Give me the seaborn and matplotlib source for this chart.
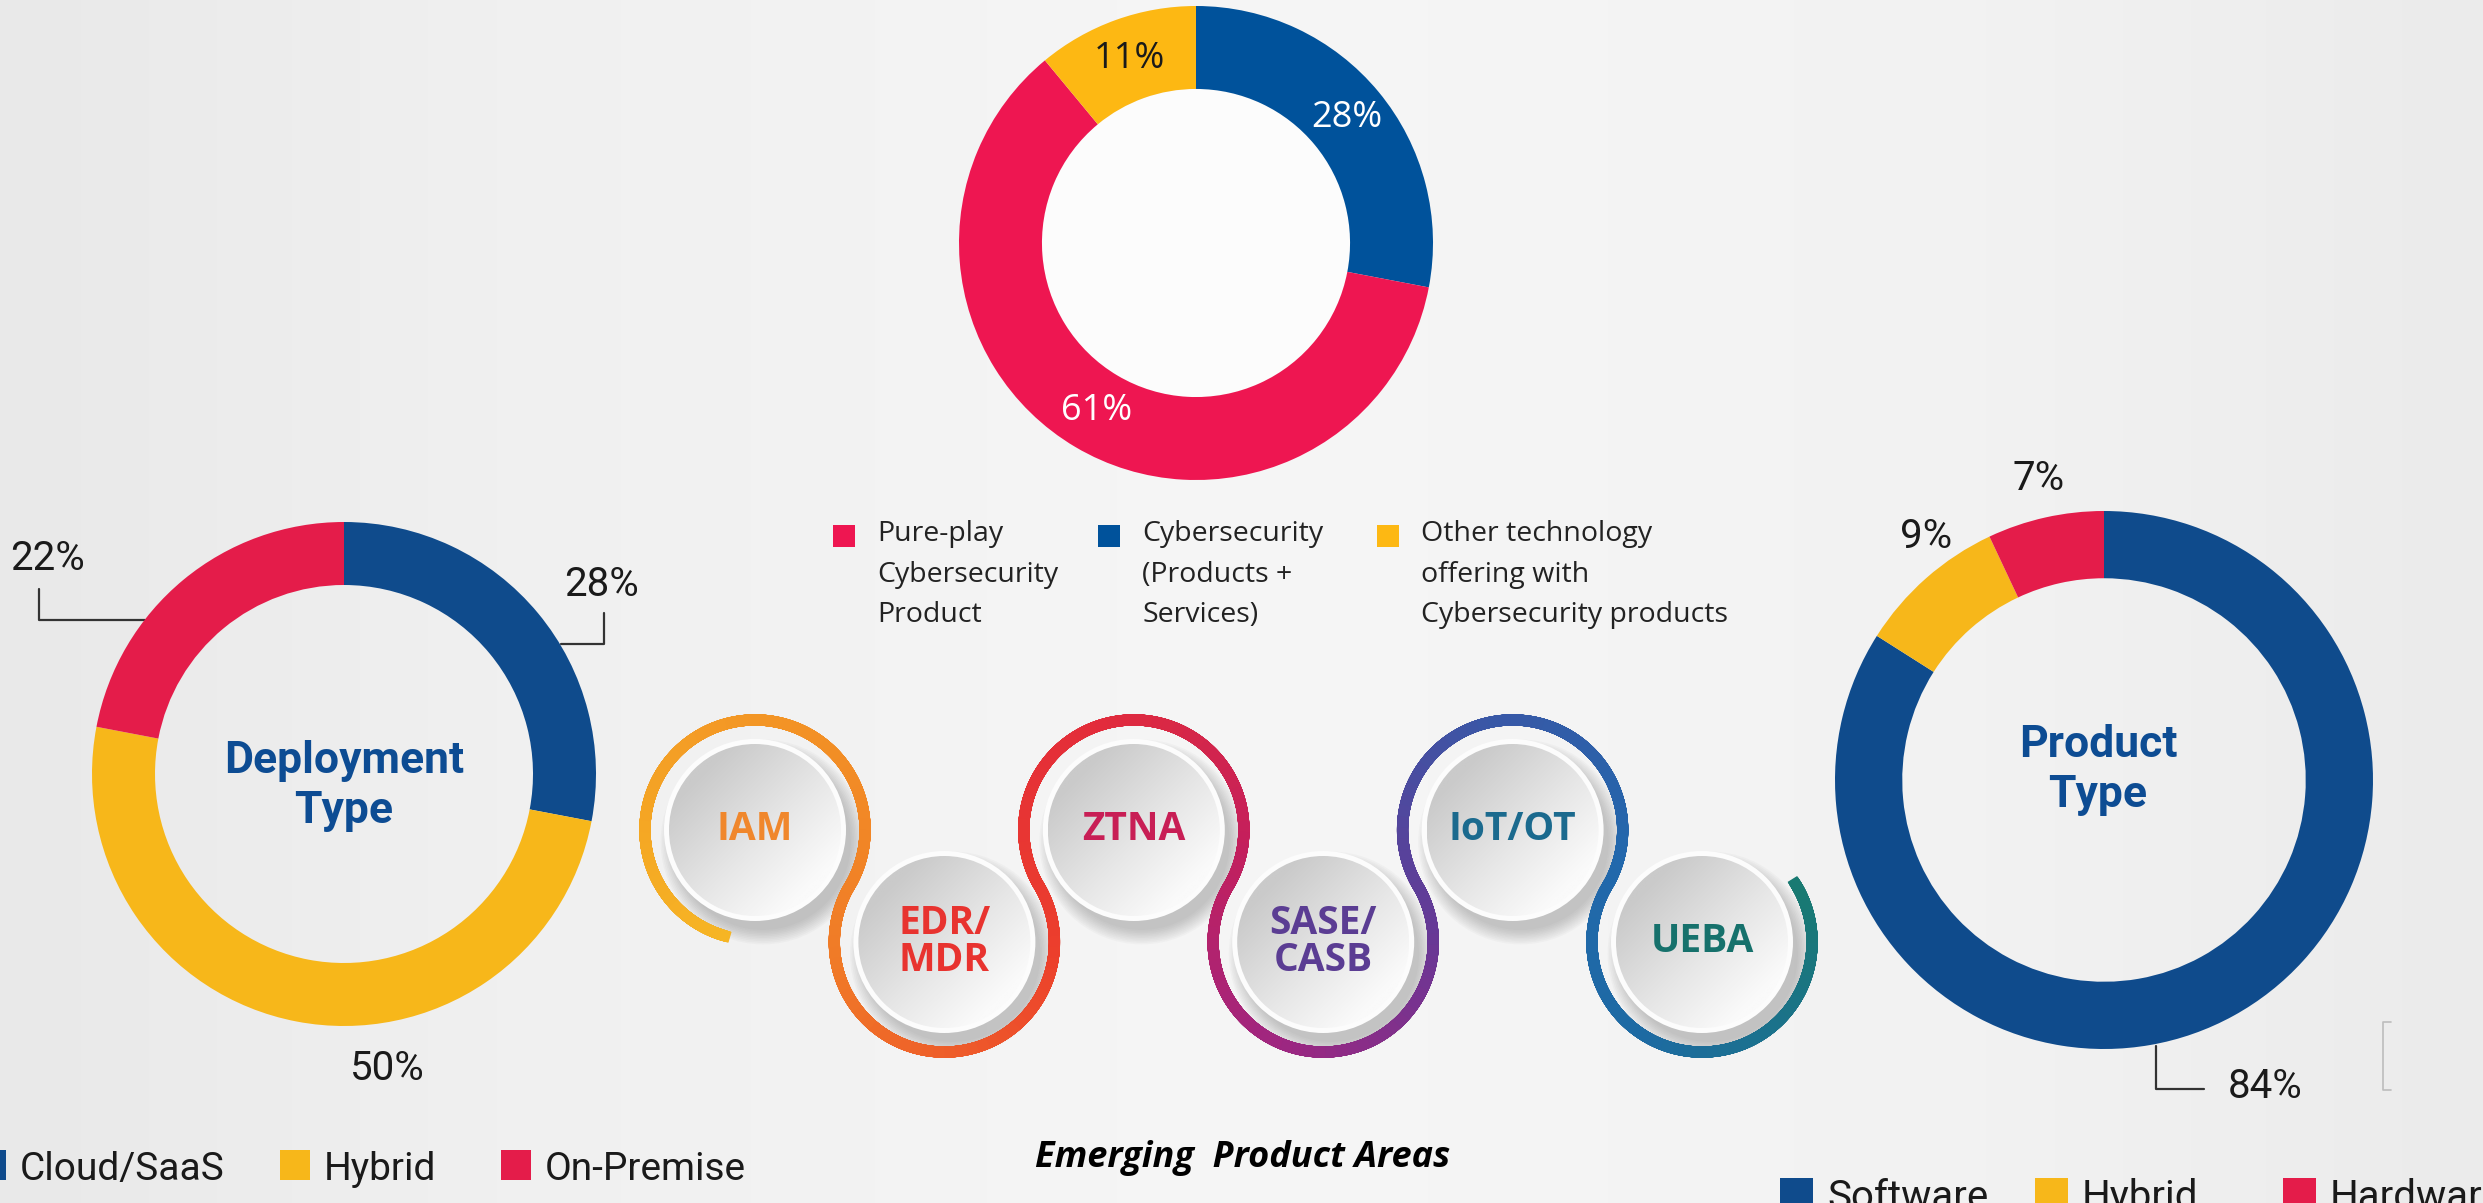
import numpy as np
import matplotlib
matplotlib.use("Agg")
import matplotlib.pyplot as plt
import seaborn as sns
from matplotlib.patches import Circle, Rectangle
from matplotlib.colors import LinearSegmentedColormap
from matplotlib.collections import LineCollection

# ---------------- data ----------------
company_categories = ["Pure-play\nCybersecurity\nProduct",
                      "Cybersecurity\n(Products +\nServices)",
                      "Other technology\noffering with\nCybersecurity products"]
company_values = [61, 28, 11]
company_colors = ["#EE1651", "#00529B", "#FDB813"]
company_pie_order = [1, 0, 2]          # clockwise from 12 o'clock
company_label_colors = ["white", "white", "#1A1A1A"]

deploy_categories = ["Cloud/SaaS", "Hybrid", "On-Premise"]
deploy_values = [28, 50, 22]
deploy_colors = ["#0F4B8C", "#F7B71A", "#E41C4A"]

product_categories = ["Software", "Hybrid", "Hardware"]
product_values = [84, 9, 7]
product_colors = ["#0F4B8C", "#F7B71A", "#E41C4A"]

emerging_areas = ["IAM", "EDR/\nMDR", "ZTNA", "SASE/\nCASB", "IoT/OT", "UEBA"]
emerging_text_colors = ["#F0872C", "#E8332F", "#C81E55", "#5B3D93", "#1B6A8E", "#16716C"]

# ---------------- style ----------------
sns.set_theme(style="white")
plt.rcParams["font.family"] = ["Roboto", "DejaVu Sans"]
DIN = ["Roboto", "DejaVu Sans"]
OPEN = ["Open Sans", "DejaVu Sans"]

W, H = 2483, 1203
fig = plt.figure(figsize=(W / 100, H / 100), dpi=100)

bg = fig.add_axes([0, 0, 1, 1])
bg.set_xlim(0, W)
bg.set_ylim(H, 0)
bg.axis("off")

# background gradient
bg_cmap = LinearSegmentedColormap.from_list(
    "bg", [(0, "#E9E9E9"), (0.2, "#F0F0F0"), (0.5, "#F6F6F6"), (0.8, "#F2F2F2"), (1, "#EBEBEB")])
bg.imshow(np.linspace(0, 1, 400)[None, :], extent=(0, W, H, 0), cmap=bg_cmap,
          aspect="auto", zorder=0, vmin=0, vmax=1)


def donut_axes(cx, cy, r):
    ax = fig.add_axes([(cx - r) / W, 1 - (cy + r) / H, 2 * r / W, 2 * r / H])
    ax.axis("off")
    return ax


# ---------------- top donut ----------------
axt = donut_axes(1196, 243, 237)
axt.add_patch(Circle((0, 0), 0.65, fc="#FCFCFC", ec="none", zorder=0))
vals = [company_values[i] for i in company_pie_order]
cols = [company_colors[i] for i in company_pie_order]
wedges, _ = axt.pie(vals, colors=cols, startangle=90, counterclock=False, radius=1,
                    wedgeprops=dict(width=0.35, edgecolor="none", linewidth=0))
for w, i in zip(wedges, company_pie_order):
    a = np.deg2rad((w.theta1 + w.theta2) / 2)
    axt.text(0.825 * np.cos(a), 0.825 * np.sin(a), f"{company_values[i]}%",
             ha="center", va="center", fontsize=26, family=OPEN,
             color=company_label_colors[i])
axt.set_xlim(-1, 1)
axt.set_ylim(-1, 1)
axt.set_aspect("equal")

# top legend
leg_x = [833, 1098, 1377]
for x, lab, col in zip(leg_x, company_categories, company_colors):
    bg.add_patch(Rectangle((x, 525), 22, 22, fc=col, ec="none", zorder=3))
    bg.text(x + 44, 520, lab, ha="left", va="top", fontsize=20.5, family=OPEN,
            color="#222222", linespacing=1.6, zorder=3)

# ---------------- deployment donut ----------------
axl = donut_axes(344, 774, 252)
axl.pie(deploy_values, colors=deploy_colors, startangle=90, counterclock=False, radius=1,
        wedgeprops=dict(width=0.25, edgecolor="none", linewidth=0))
axl.set_xlim(-1, 1)
axl.set_ylim(-1, 1)
axl.set_aspect("equal")
bg.text(344, 786, "Deployment\nType", ha="center", va="center", fontsize=32,
        fontweight="bold", family=DIN, color="#0D4C93", linespacing=1.25, zorder=4)

deploy_label_pos = [(602, 585), (387, 1069), (48, 559)]
for (x, y), v in zip(deploy_label_pos, deploy_values):
    bg.text(x, y, f"{v}%", ha="center", va="center", fontsize=29, fontweight="normal",
            family=DIN, color="#1A1A1A", zorder=4)
bg.plot([39, 39, 145], [589, 620, 620], color="#333333", lw=1.6, zorder=4)
bg.plot([604, 604, 561], [613, 644, 644], color="#333333", lw=1.6, zorder=4)

# bottom-left legend
bl_x = [-24, 280, 501]
for x, lab, col in zip(bl_x, deploy_categories, deploy_colors):
    bg.add_patch(Rectangle((x, 1150), 30, 30, fc=col, ec="none", zorder=3))
    bg.text(x + 44, 1180, lab, ha="left", va="baseline", fontsize=28, fontweight="normal",
            family=DIN, color="#1A1A1A", zorder=3)

# ---------------- product donut ----------------
axr = donut_axes(2104, 780, 269)
axr.pie(product_values, colors=product_colors, startangle=90, counterclock=False, radius=1,
        wedgeprops=dict(width=0.25, edgecolor="none", linewidth=0))
axr.set_xlim(-1, 1)
axr.set_ylim(-1, 1)
axr.set_aspect("equal")
bg.text(2098, 770, "Product\nType", ha="center", va="center", fontsize=32,
        fontweight="bold", family=DIN, color="#0D4C93", linespacing=1.25, zorder=4)

product_label_pos = [(2265, 1087), (1926, 536), (2039, 479)]
for (x, y), v in zip(product_label_pos, product_values):
    bg.text(x, y, f"{v}%", ha="center", va="center", fontsize=29, fontweight="normal",
            family=DIN, color="#1A1A1A", zorder=4)
bg.plot([2156, 2156, 2204], [1046, 1089, 1089], color="#333333", lw=1.6, zorder=4)
bg.plot([2391, 2383, 2383, 2391], [1022, 1022, 1090, 1090], color="#BDBDBD", lw=1.2, zorder=2)

# bottom-right legend (cut by the lower edge, as in the original)
br_x = [1780, 2035, 2283]
for x, lab, col in zip(br_x, product_categories, product_colors):
    bg.add_patch(Rectangle((x, 1178), 33, 33, fc=col, ec="none", zorder=3))
    bg.text(x + 47, 1209, lab, ha="left", va="baseline", fontsize=29, fontweight="normal",
            family=DIN, color="#1A1A1A", zorder=3)

# ---------------- emerging product areas ----------------
x0, step, y_up, y_dn, R = 755, 189.4, 830, 942, 110
centers = [(x0 + step * i, y_up if i % 2 == 0 else y_dn) for i in range(len(emerging_areas))]
tang = np.degrees(np.arctan2(y_dn - y_up, step))

pts = []
n = len(centers)
for i, (cx, cy) in enumerate(centers):
    if i % 2 == 0:
        a0 = 254 if i == 0 else 180 + tang
        a1 = -tang
    else:
        a0 = 180 - tang
        a1 = 392 if i == n - 1 else 360 + tang
    m = int(abs(a1 - a0) * 3)
    a = np.deg2rad(np.linspace(a0, a1, m))
    pts.append(np.column_stack([cx + R * np.cos(a), cy - R * np.sin(a)]))
pts = np.vstack(pts)
segs = np.stack([pts[:-1], pts[1:]], axis=1)
ring_cmap = LinearSegmentedColormap.from_list("ring", [
    (0.0, "#F6B524"), (0.12, "#F39325"), (0.22, "#F07A27"), (0.33, "#EC3F2C"),
    (0.42, "#E32C3A"), (0.50, "#C41F5C"), (0.58, "#9F2680"), (0.66, "#673895"),
    (0.75, "#3957A6"), (0.83, "#2268AC"), (0.90, "#1D6AA3"), (1.0, "#197A72")])
lc = LineCollection(segs, cmap=ring_cmap, linewidths=8.0, capstyle="projecting",
                    joinstyle="miter", zorder=3)
lc.set_array(np.linspace(0, 1, len(segs)))
bg.add_collection(lc)

disk_cmap = LinearSegmentedColormap.from_list(
    "disk", [(0, "#CACACA"), (0.55, "#E6E6E6"), (1, "#FAFAFA")])
rd = 86
g = np.linspace(-1, 1, 160)
gx, gy = np.meshgrid(g, g)
tgrad = np.clip(0.5 + (gx + gy) / (2 * np.sqrt(2)) * 1.1, 0, 1)
for (cx, cy), lab, col in zip(centers, emerging_areas, emerging_text_colors):
    for k in range(10):
        bg.add_patch(Circle((cx + 8, cy + 12), rd + 2 + k * 1.6, fc="#5E5E5E",
                            ec="none", alpha=0.035, zorder=2))
    bg.add_patch(Circle((cx, cy), rd + 5, fc="#FCFCFC", ec="none", zorder=4))
    clip = Circle((cx, cy), rd, transform=bg.transData)
    im = bg.imshow(tgrad, extent=(cx - rd, cx + rd, cy + rd, cy - rd), cmap=disk_cmap,
                   vmin=0, vmax=1, aspect="auto", interpolation="bilinear", zorder=5)
    im.set_clip_path(clip)
    bg.text(cx, cy, lab, ha="center", va="center", fontsize=28, fontweight="bold",
            family=OPEN, color=col, linespacing=0.95, zorder=6)

bg.text(1243, 1158, "Emerging  Product Areas", ha="center", va="center", fontsize=26,
        fontweight="bold", style="italic", family=OPEN, color="black", zorder=6)

bg.set_xlim(0, W)
bg.set_ylim(H, 0)

fig.savefig("out.png", dpi=100)
